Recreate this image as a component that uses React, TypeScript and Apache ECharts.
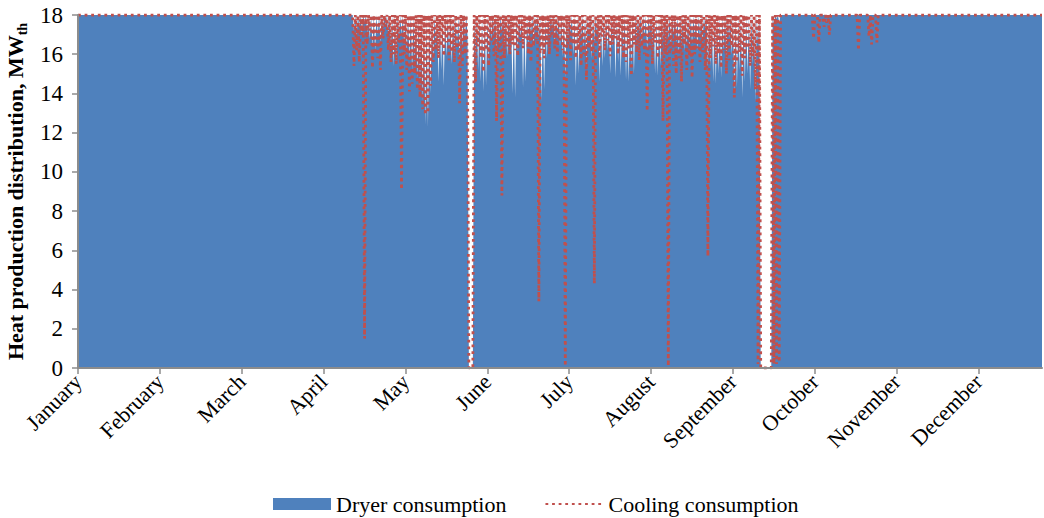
import { useEffect, useRef } from 'react';
import * as echarts from 'echarts';

// Month labels on the time axis (ticks every 31 days, i.e. 744 h)
const MONTHS = [
  'January', 'February', 'March', 'April', 'May', 'June',
  'July', 'August', 'September', 'October', 'November', 'December',
];
const MONTH_TICKS = [0, 31, 62, 93, 124, 155, 186, 217, 248, 279, 310, 341];

const YEAR_DAYS = 365;
const PLATEAU = 18; // MWth, full heat production
const FIRST_DAY = 104; // first day with a daily profile below

// Days on which the plant was stopped (both consumers at zero all day)
const SHUTDOWN_DAYS = [148, 149, 259, 260, 261, 262];

// Daily minimum of the cooling consumption, MWth, from day 104 on
const COOLING_DAILY_LOW = [
  15.4, 16.2, 15.6, 17.0, 1.5, 16.5, 17.2, 15.3, 16.0, 15.8,
  15.2, 16.8, 17.4, 16.2, 15.6, 16.0, 15.5, 16.6, 9.1, 16.0,
  15.2, 14.1, 14.5, 15.0, 14.2, 13.8, 13.2, 12.9, 13.0, 14.4,
  15.6, 16.2, 15.8, 16.4, 15.9, 16.6, 15.7, 16.1, 15.6, 16.3,
  13.5, 15.4, 16.0, 15.0, 0, 0, 14.6, 16.4, 15.8, 15.1,
  16.2, 15.4, 16.6, 15.9, 12.6, 16.1, 8.8, 15.8, 16.4, 16.0,
  16.5, 16.2, 15.9, 16.6, 16.3, 16.8, 16.0, 15.6, 16.4, 16.7,
  3.4, 16.2, 15.8, 16.5, 16.0, 16.9, 16.3, 15.9, 16.6, 16.2,
  0.1, 16.4, 15.7, 16.5, 15.8, 16.2, 15.4, 16.0, 14.7, 16.3,
  16.1, 4.3, 16.6, 15.8, 16.9, 16.2, 16.7, 15.9, 16.5, 16.8,
  16.0, 16.4, 15.8, 15.6, 16.3, 14.9, 16.5, 16.1, 15.7, 16.4,
  16.0, 13.1, 16.2, 15.5, 16.6, 15.8, 16.3, 12.6, 16.0, 0.1,
  16.2, 15.4, 15.0, 15.8, 14.6, 16.5, 15.2, 15.9, 14.8, 16.0,
  16.3, 15.6, 16.1, 15.2, 5.7, 15.8, 16.4, 15.5, 16.0, 15.3,
  16.2, 15.0, 15.7, 16.4, 13.8, 15.6, 16.1, 14.9, 15.8, 16.3,
  15.4, 15.9, 14.2, 0.2, 0, 0, 0, 0, 0, 0.2,
  0.2, 0.3, 18, 18, 18, 18, 18, 18, 18, 18,
  18, 18, 18, 18, 16.8, 18, 16.6, 18, 17.4, 17.6,
  17.0, 18, 18, 18, 18, 18, 18, 18, 18, 18,
  18, 16.2, 18, 18, 18, 16.9, 16.5, 18, 16.6, 18,
];

// Daily minimum of the dryer consumption, MWth, from day 104 on
const DRYER_DAILY_LOW = [
  17.2, 16.9, 17.4, 17.0, 17.6, 17.1, 16.8, 16.4, 16.2, 17.0,
  16.6, 17.3, 17.5, 16.9, 16.4, 15.4, 15.6, 16.8, 17.0, 16.5,
  16.2, 15.8, 15.2, 15.6, 14.8, 14.2, 13.6, 12.4, 12.3, 14.0,
  15.8, 16.4, 14.6, 15.2, 14.4, 15.9, 16.2, 15.5, 16.0, 16.3,
  15.7, 16.4, 16.8, 16.9, 0, 0, 15.8, 15.2, 14.6, 14.1,
  14.4, 15.6, 16.8, 17.0, 16.2, 16.6, 17.1, 16.4, 15.9, 16.8,
  14.0, 13.8, 16.2, 16.9, 14.3, 14.6, 16.5, 17.0, 16.4, 17.2,
  16.8, 13.6, 14.2, 15.8, 16.9, 17.3, 16.6, 17.0, 16.4, 15.9,
  14.8, 16.7, 17.1, 16.0, 14.4, 15.0, 16.8, 16.3, 15.4, 16.9,
  15.8, 16.6, 17.0, 14.6, 15.4, 15.8, 16.2, 15.0, 16.4, 14.8,
  15.6, 14.9, 16.2, 14.7, 14.6, 15.4, 15.0, 16.6, 17.0, 16.5,
  16.9, 16.2, 17.1, 16.4, 15.0, 14.9, 15.4, 16.7, 16.2, 16.8,
  16.4, 17.0, 16.6, 16.0, 16.3, 16.2, 16.4, 16.3, 16.5, 16.8,
  16.2, 16.9, 16.6, 17.2, 15.3, 15.4, 14.6, 14.5, 15.0, 14.8,
  16.2, 15.7, 16.8, 16.0, 14.0, 14.3, 15.2, 13.8, 14.6, 15.0,
  14.2, 15.5, 13.6, 16.4, 0, 0, 0, 0, 0, 17.5,
  17.8, 17.6,
];

const SERIF = 'Liberation Serif';
const BLUE = '#4F81BD';
const RED = '#C0504D';
const AXIS_GREY = '#8C8C8C';

// Day-start value (plateau, or zero on a shutdown day) followed by the midday low
function dailyProfile(lows: number[]): number[][] {
  const pts: number[][] = [[0, PLATEAU]];
  lows.forEach((low, i) => {
    const day = FIRST_DAY + i;
    const high = SHUTDOWN_DAYS.includes(day) ? 0 : PLATEAU;
    pts.push([day, high], [day + 0.5, low]);
  });
  pts.push([FIRST_DAY + lows.length, PLATEAU], [YEAR_DAYS, PLATEAU]);
  return pts;
}

const serifText = (size: number, weight: string = 'normal') => ({
  fontSize: size,
  fontFamily: SERIF,
  fontWeight: weight,
  color: '#000',
});

export default function App() {
  const ref = useRef<HTMLDivElement>(null);

  useEffect(() => {
    if (!ref.current) return;
    const chart = echarts.init(ref.current, undefined, { renderer: 'svg' });

    chart.setOption({
      animation: false,
      backgroundColor: '#fff',
      textStyle: { fontFamily: SERIF, color: '#000' },
      grid: {
        left: 78,
        right: 2,
        top: 15,
        bottom: 150,
        containLabel: false,
        outerBoundsMode: 'none',
      },
      legend: {
        left: 268,
        top: 488,
        itemWidth: 58,
        itemHeight: 12,
        itemGap: 38,
        textStyle: serifText(22),
        data: [
          { name: 'Dryer consumption', icon: 'rect' },
          {
            name: 'Cooling consumption',
            itemStyle: { color: 'rgba(0,0,0,0)', borderWidth: 0 },
          },
        ],
      },
      xAxis: {
        type: 'value',
        min: 0,
        max: YEAR_DAYS,
        z: 5,
        axisLine: { show: true, lineStyle: { color: AXIS_GREY, width: 2 } },
        axisTick: {
          show: true,
          length: 6,
          customValues: MONTH_TICKS,
          lineStyle: { color: AXIS_GREY, width: 1.5 },
        },
        splitLine: { show: false },
        axisLabel: {
          customValues: MONTH_TICKS,
          rotate: 45,
          margin: 10,
          ...serifText(22),
          formatter: (v: number) => MONTHS[MONTH_TICKS.indexOf(v)] ?? '',
        },
      },
      yAxis: {
        type: 'value',
        min: 0,
        max: 18,
        interval: 2,
        z: 5,
        axisLine: { show: true, lineStyle: { color: AXIS_GREY, width: 2 } },
        axisTick: { show: true, length: 6, lineStyle: { color: AXIS_GREY, width: 1.5 } },
        splitLine: { show: false },
        axisLabel: { ...serifText(23), margin: 15 },
        name: '{m|Heat production distribution, MW}{s|th}',
        nameLocation: 'middle',
        nameRotate: 90,
        nameGap: 46,
        nameTextStyle: {
          rich: {
            m: { ...serifText(22, 'bold'), lineHeight: 27, verticalAlign: 'middle' },
            s: { ...serifText(14, 'bold'), lineHeight: 12, verticalAlign: 'bottom' },
          },
        },
      },
      series: [
        {
          name: 'Dryer consumption',
          type: 'line',
          data: dailyProfile(DRYER_DAILY_LOW),
          symbol: 'none',
          showSymbol: false,
          itemStyle: { color: BLUE },
          lineStyle: { width: 0, opacity: 0 },
          areaStyle: { color: BLUE, opacity: 1 },
          z: 1,
        },
        {
          name: 'Cooling consumption',
          type: 'line',
          data: dailyProfile(COOLING_DAILY_LOW),
          symbol: 'none',
          showSymbol: false,
          itemStyle: { color: RED },
          lineStyle: { color: RED, width: 2.8, type: [2.8, 3.8] },
          z: 2,
        },
      ],
    });

    return () => chart.dispose();
  }, []);

  return (
    <div
      ref={ref}
      style={{ position: 'fixed', left: 0, top: 0, width: 1044, height: 518, background: '#fff' }}
    />
  );
}
